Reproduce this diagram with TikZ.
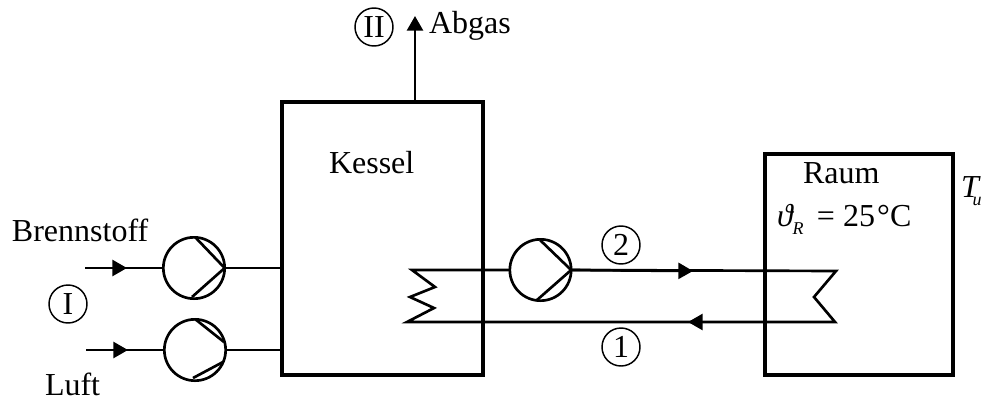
\documentclass[tikz,border=0pt]{standalone}
\usepackage{fontspec}
\setmainfont{Liberation Serif}
\usetikzlibrary{arrows.meta}
\newcommand{\subtxt}[1]{\raisebox{-0.28em}{\fontsize{13.5pt}{15pt}\selectfont\textit{#1}}}
\tikzset{
  every node/.style={font=\fontsize{24pt}{28pt}\selectfont,inner sep=0pt,outer sep=0pt},
  txt/.style={anchor=base west},
  vessel/.style={draw,line width=3pt,minimum width=#1},
  pump/.style={draw,circle,line width=2pt,minimum size=46pt},
  numcirc/.style={draw,circle,line width=1.1pt,minimum size=28.5pt},
  pipe/.style={line width=2pt},
  flow/.style={pipe,-{Triangle[length=11pt,width=12pt]}},
}
\begin{document}
\begin{tikzpicture}[x=0.75pt,y=-0.75pt]
\useasboundingbox (0,0) rectangle (984,401);
% vessels
\node[vessel=150.75pt,minimum height=204.75pt] (kessel) at (382.5,238.5) {};
\node[vessel=141pt,minimum height=165.75pt] (raum) at (859,264.5) {};
% pumps
\node[pump] (p1) at (194,268) {};
\node[pump] (p2) at (195,350) {};
\node[pump] (p3) at (540.5,270) {};
% pump blades
\draw[pipe,line join=miter] (195,237) -- (p1.east) -- (192,297);
\draw[pipe] (195,319) -- (224,342);
\draw[pipe] (193,378) -- (223,362);
\draw[pipe,line join=miter] (540,240) -- (p3.east) -- (537,300);
% inlet lines
\coordinate (f1) at (85,268);
\coordinate (f1t) at (127,268);
\coordinate (f2) at (86,350);
\coordinate (f2t) at (128,350);
\draw[pipe] (f1) -- (p1.west);
\draw[flow] (f1) -- (f1t);
\draw[pipe] (f2) -- (p2.west);
\draw[flow] (f2) -- (f2t);
\draw[pipe] (p1.east) -- (p1.east -| kessel.west);
\draw[pipe] (p2.east) -- (p2.east -| kessel.west);
% exhaust
\coordinate (abg) at (415,16);
\draw[flow] (abg |- kessel.north) -- (abg);
% coil and circuit
\coordinate (c1) at (412,270);
\coordinate (c2) at (435,287);
\coordinate (c3) at (410,297);
\coordinate (c4) at (434,308);
\coordinate (c5) at (407,322);
\coordinate (r1) at (836,271);
\coordinate (r2) at (814,297);
\coordinate (r3) at (835,322);
\coordinate (vt) at (693,271);
\coordinate (rt) at (688,322);
\draw[pipe,line join=miter] (p3.west) -- (c1) -- (c2) -- (c3) -- (c4) -- (c5) -- (r3) -- (r2) -- (r1) -- (p3.east);
\draw[flow] (p3.east) -- (vt);
\draw[flow] (r3) -- (rt);
% numbered circles
\node[numcirc] (nI) at (68,304) {I};
\node[numcirc] (nII) at (374,27) {II};
\node[numcirc] (n1) at (621,347) {1};
\node[numcirc] (n2) at (621,245) {2};
% labels
\node[txt] (lb) at (12,241) {Brennstoff};
\node[txt] (ll) at (45,395) {Luft};
\node[txt] (la) at (429,33) {Abgas};
\node[txt] (lk) at (329,173) {Kessel};
\node[txt] (lr) at (803,183) {Raum};
\node[txt] (lt) at (777,226) {\textit{ϑ}\kern-0.05em\subtxt{R}\kern0.42em=\kern0.25em25\kern0.07em°C};
\node[txt] (lu) at (961,197) {\textit{T}\kern-0.25em\subtxt{u}};
\end{tikzpicture}
\end{document}
